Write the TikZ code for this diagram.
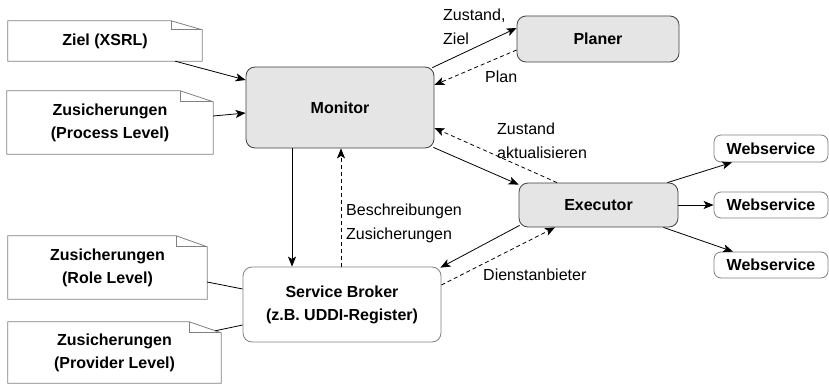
\documentclass[tikz,border=0pt]{standalone}
\usepackage{fontspec}
\setmainfont{Liberation Sans}
\usetikzlibrary{arrows.meta}
\tikzset{
  box/.style={rounded corners=9pt, draw=black!75, fill=black!10, line width=0.8pt, align=center,
    font=\fontsize{16}{23}\selectfont\bfseries, inner sep=0pt},
  wbox/.style={rounded corners=9pt, draw=black!50, fill=white, line width=0.8pt, align=center,
    font=\fontsize{16}{23}\selectfont\bfseries, inner sep=0pt},
  notetxt/.style={draw=none, align=center, font=\fontsize{16}{23}\selectfont\bfseries, inner sep=0pt},
  notebd/.style={draw=black!50, line width=0.8pt},
  arr/.style={line width=0.8pt, -{Stealth[length=10pt,width=8pt,inset=2.5pt]}},
  darr/.style={arr, dash pattern=on 4pt off 3pt},
  ln/.style={line width=0.8pt},
  lbl/.style={font=\fontsize{16}{24}\selectfont, align=left, inner sep=0pt, anchor=base west}
}
\newcommand\notefold[3]{%
  \draw[notebd, fill=white] (#1.north west) -- ([xshift=-#2]#1.north east) -- ([yshift=-#3]#1.north east)
     -- (#1.south east) -- (#1.south west) -- cycle;
  \draw[notebd] ([xshift=-#2]#1.north east) -- ++(0pt,-#3) -- ([yshift=-#3]#1.north east);
}
\begin{document}
\begin{tikzpicture}[x=1pt,y=-1pt]
\useasboundingbox (0,0) rectangle (829,385);
% notes
\node[notetxt, minimum width=194pt, minimum height=40pt] (ziel) at (105,41) {};
\notefold{ziel}{31pt}{9pt}
\node[notetxt] at (ziel) {Ziel (XSRL)};
\node[notetxt, minimum width=206pt, minimum height=63pt] (proc) at (110,122.5) {};
\notefold{proc}{33pt}{11pt}
\node[notetxt] at (proc) {Zusicherungen\\(Process Level)};
\node[notetxt, minimum width=199pt, minimum height=63pt] (role) at (107.5,267.5) {};
\notefold{role}{31pt}{11pt}
\node[notetxt] at (role) {Zusicherungen\\(Role Level)};
\node[notetxt, minimum width=213pt, minimum height=61pt] (prov) at (114.5,352.5) {};
\notefold{prov}{32pt}{11pt}
\node[notetxt] at (prov) {Zusicherungen\\(Provider Level)};
% boxes
\node[box, minimum width=188pt, minimum height=81pt] (monitor) at (340,107.5) {Monitor};
\node[box, minimum width=162pt, minimum height=46pt] (planer) at (598,39) {Planer};
\node[box, minimum width=159pt, minimum height=44pt] (exec) at (598.5,205) {Executor};
\node[wbox, rounded corners=7pt, minimum width=114pt, minimum height=27pt] (ws1) at (771,148.5) {Webservice};
\node[wbox, rounded corners=7pt, minimum width=114pt, minimum height=26pt] (ws2) at (771,205) {Webservice};
\node[wbox, rounded corners=7pt, minimum width=114pt, minimum height=26pt] (ws3) at (771,265) {Webservice};
\node[wbox, minimum width=198pt, minimum height=75pt] (broker) at (342,304.5) {Service Broker\\(z.B. UDDI-Register)};
% connectors
\draw[arr] ([xshift=-27pt]ziel.south east) -- ([yshift=27.5pt]monitor.west);
\draw[arr] ([yshift=6.5pt]proc.east) -- ([yshift=-5.5pt]monitor.west);
\draw[arr] ([xshift=-2pt,yshift=-1pt]monitor.north east) -- ([yshift=11pt]planer.west);
\draw[darr] ([yshift=-11pt]planer.west) -- ([yshift=22.5pt]monitor.east);
\draw[darr] ([xshift=-41.5pt]exec.north) -- ([yshift=-20.5pt]monitor.east);
\draw[arr] ([xshift=-1pt,yshift=1pt]monitor.south east) -- ([yshift=-2pt]exec.north west);
\draw[arr] ([xshift=-48pt]monitor.south) -- ([xshift=-48pt]monitor.south |- broker.north);
\draw[darr] ([xshift=-1pt]broker.north) -- ([xshift=-1pt]broker.north |- monitor.south);
\draw[arr] ([xshift=1pt,yshift=2pt]exec.south west) -- ([xshift=-1pt,yshift=-1pt]broker.north east);
\draw[darr] ([yshift=19.5pt]broker.east) -- ([xshift=-43.5pt]exec.south);
\draw[arr] ([xshift=-11pt]exec.north east) -- ([xshift=-39pt]ws1.south);
\draw[arr] (exec.east) -- (ws2.west);
\draw[arr] ([xshift=-15pt]exec.south east) -- ([xshift=-38pt]ws3.north);
\draw[ln] ([yshift=-14.5pt]role.east) -- ([yshift=15.5pt]broker.west);
\draw[ln] ([xshift=-6pt,yshift=-9pt]prov.north east) -- ([yshift=-20.5pt]broker.west);
% labels (base = baseline of last line)
\node[lbl] (l1) at (443,45) {Zustand,\\Ziel};
\node[lbl] (l2) at (485,83) {Plan};
\node[lbl] (l3) at (497,158) {Zustand\\aktualisieren};
\node[lbl] (l4) at (346,239) {Beschreibungen\\Zusicherungen};
\node[lbl] (l5) at (483,280) {Dienstanbieter};
\end{tikzpicture}
\end{document}
